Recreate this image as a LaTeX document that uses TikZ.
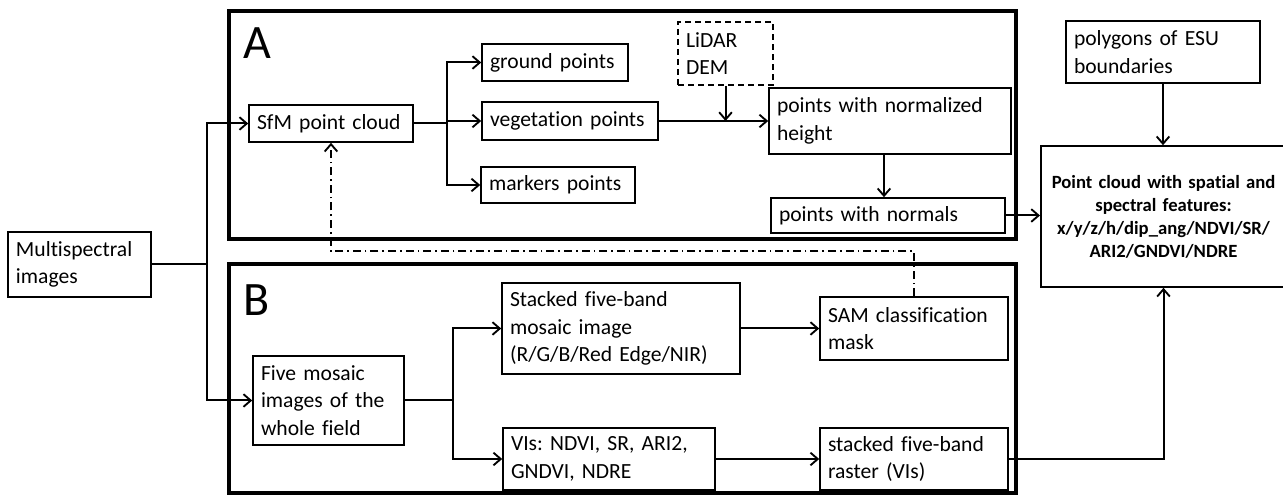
\documentclass[tikz,border=0pt]{standalone}
\usepackage{fontspec}
\setmainfont{Carlito}[Ligatures=NoCommon]
\usetikzlibrary{arrows.meta}
\frenchspacing
\tikzset{
  box/.style={draw, line width=1.2pt, inner xsep=6pt, inner ysep=0pt, align=left,
    font=\fontsize{16.2}{20.5}\selectfont},
  frame/.style={draw, line width=3pt},
  ln/.style={line width=1.5pt},
  tip/.style={-{Straight Barb[length=5.5pt,width=9.5pt,line width=1.4pt]}},
  arr/.style={ln, tip},
  dd/.style={line width=1.5pt, dash pattern=on 6pt off 3pt on 1.2pt off 3pt},
  lidarbox/.style={dash pattern=on 4.5pt off 3pt},
  biglabel/.style={font=\fontsize{36}{36}\selectfont, inner sep=0pt, anchor=base west}
}
\newcommand\flowbox[7][]{%
  \pgfmathsetmacro\fbw{(#4-#2)*0.75}%
  \pgfmathsetmacro\fbh{(#5-#3)*0.75}%
  \pgfmathsetmacro\fbt{(#4-#2)*0.75-12}%
  \node[box,minimum width=\fbw pt,minimum height=\fbh pt,text width=\fbt pt,#1] (#6) at ({(#2+#4)/2},{(#3+#5)/2}) {#7};}
\begin{document}
\begin{tikzpicture}[x=0.75pt,y=-0.75pt]
\useasboundingbox (0,0) rectangle (1283,495);
% frames
\draw[frame] (229,11) rectangle (1016,239);
\draw[frame] (229,264) rectangle (1016,493);
\node[biglabel] (labA) at (243,59) {A};
\node[biglabel] (labB) at (243,316) {B};
% boxes
\flowbox{8}{232}{151}{297}{multi}{Multispectral\\images}
\flowbox{249}{105}{413}{142}{sfm}{SfM point cloud}
\flowbox{482}{44}{628}{81}{ground}{ground points}
\flowbox{482}{102}{658}{140}{veg}{vegetation points}
\flowbox{481}{167}{635}{203}{markers}{markers points}
\flowbox[lidarbox]{678}{22}{773}{85}{lidar}{LiDAR\\DEM}
\flowbox{769}{88}{1011}{154}{norm}{points with normalized\\height}
\flowbox{771}{198}{1005}{233}{normals}{points with normals}
\flowbox{1066}{21}{1260}{83}{poly}{polygons of ESU\\boundaries}
\flowbox[align=center,text width=172pt,font=\fontsize{14}{17.3}\selectfont\bfseries]{1046}{146}{1281}{287}{cloud}{Point cloud with spatial and\\spectral features:\\x/y/z/h/dip\_ang/NDVI/SR/\\ARI2/GNDVI/NDRE}
\flowbox{253}{356}{404}{445}{five}{Five mosaic\\images of the\\whole field}
\flowbox{502}{283}{740}{374}{stacked}{Stacked five-band\\mosaic image\\(R/G/B/Red Edge/NIR)}
\flowbox{503}{428}{715}{490}{vis}{VIs: NDVI, SR, ARI2,\\GNDVI, NDRE}
\flowbox{820}{297}{1008}{360}{sam}{SAM classification\\mask}
\flowbox{820}{428}{1008}{490}{raster}{stacked five-band\\raster (VIs)}
% junctions
\coordinate (j1) at (207,264.5);
\coordinate (jA) at (447,123.5);
\coordinate (jB) at (453,400.5);
\coordinate (dl) at (331,251);
% connectors
\draw[ln] (multi.east) -- (j1);
\draw[arr] (j1) |- (sfm.west);
\draw[arr] (j1) |- (five.west);
\draw[ln] (sfm.east) -- (jA);
\draw[arr] (jA) |- (ground.west);
\draw[arr] (jA) |- (veg.west);
\draw[arr] (jA) |- (markers.west);
\draw[arr] (veg.east) -- (veg.east -| norm.west);
\draw[arr] (lidar.south) -- (lidar.south |- veg.east);
\draw[arr] ([xshift=-4.5pt]norm.south) -- ([xshift=-4.5pt]norm.south |- normals.north);
\draw[arr] (normals.east) -- (normals.east -| cloud.west);
\draw[arr] (poly.south) -- (poly.south |- cloud.north);
\draw[ln] (five.east) -- (jB);
\draw[arr] (jB) |- (stacked.west);
\draw[arr] (jB) |- (vis.west);
\draw[arr] (stacked.east) -- (stacked.east -| sam.west);
\draw[arr] (vis.east) -- (vis.east -| raster.west);
\draw[arr] (raster.east) -| (cloud.south);
\draw[dd, tip] (sam.north) |- (dl) -- (sfm.south);
\end{tikzpicture}
\end{document}
